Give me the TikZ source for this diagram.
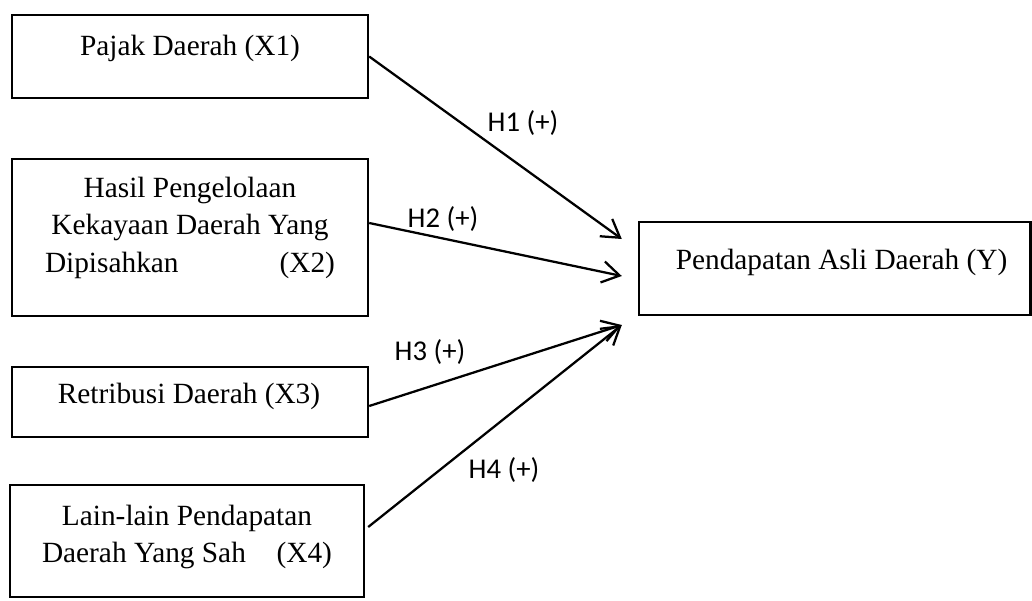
\documentclass[tikz,border=0pt]{standalone}
\usepackage{fontspec}
\setmainfont{Liberation Serif}
\newfontfamily\lblfont{Carlito}
\usetikzlibrary{arrows.meta,fit,calc}
\begin{document}
\begin{tikzpicture}[x=0.75pt,y=-0.75pt,
  box/.style={draw, line width=1.8pt, inner sep=0pt},
  txt/.style={inner sep=0pt, anchor=base, font=\fontsize{22}{28}\selectfont},
  hyp/.style={inner sep=0pt, font=\lblfont\fontsize{21.5}{25}\selectfont},
  link/.style={line width=1.7pt, -{Straight Barb[length=13pt,width=16pt]}}]
\useasboundingbox (0,0) rectangle (1032,600);

% boxes
\node[box, fit={(12,15) (368,98)}] (X1) {};
\node[box, fit={(12,159) (368,316)}] (X2) {};
\node[box, fit={(12,367) (368,437)}] (X3) {};
\node[box, fit={(10,485) (364,597)}] (X4) {};
\node[box, fit={(639,222) (1030.5,315)}] (Y) {};

% box texts
\node[txt] (t1) at (190,55) {Pajak Daerah (X1)};
\node[txt] (t2a) at (190,197) {Hasil Pengelolaan};
\node[txt] (t2b) at (190,234) {Kekayaan Daerah Yang};
\node[txt] (t2c) at (190,272) {\makebox[217.5pt]{Dipisahkan\hfill(X2)}};
\node[txt] (t3) at (189,403) {Retribusi Daerah (X3)};
\node[txt] (t4a) at (187,525) {Lain-lain Pendapatan};
\node[txt] (t4b) at (187,562) {\makebox[217.5pt]{Daerah Yang Sah\hfill(X4)}};
\node[txt] (ty) at (841.5,269) {Pendapatan Asli Daerah (Y)};

% arrow ends
\coordinate (e1) at ($(Y.west)+(-16,-29.5)$);
\coordinate (e2) at ($(Y.west)+(-16,7.5)$);
\coordinate (e3) at ($(Y.west)+(-16,56.5)$);

\draw[link] (X1.east) -- (e1);
\draw[link] ($(X2.east)+(0,-14.5)$) -- (e2);
\draw[link] ($(X3.east)+(0,4)$) -- (e3);
\draw[link] ($(X4.east)+(3,-14)$) -- (e3);

% labels
\node[hyp] (h1) at (523,123) {H1 (+)};
\node[hyp] (h2) at (443,219) {H2 (+)};
\node[hyp] (h3) at (430,352) {H3 (+)};
\node[hyp] (h4) at (504,470) {H4 (+)};
\end{tikzpicture}
\end{document}
